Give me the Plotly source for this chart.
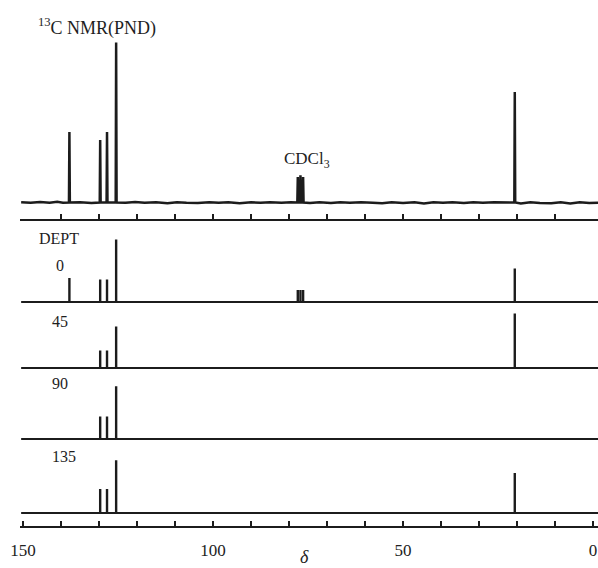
import plotly.graph_objects as go

W, H = 598, 568

# carbon shifts (ppm) of the sample and the solvent triplet
shifts = [137.8, 129.7, 127.9, 125.5, 20.6]
cdcl3_shifts = [77.7, 77.0, 76.3]

# relative stick heights for each experiment (same units in every trace)
pnd_heights = [44, 39, 44, 100, 69]
pnd_cdcl3 = [16, 17, 16]
dept0_heights = [15, 14, 14, 39, 21]
dept0_cdcl3 = [7.5, 7.5, 7.5]
dept45_heights = [0, 11, 11, 26, 34]
dept90_heights = [0, 14, 14, 33, 0]
dept135_heights = [0, 15, 15, 33, 25]

# baseline ripple of the proton-noise-decoupled spectrum
noise_ppm = [150.5, 148, 145.5, 143, 141, 139.5, 135, 132, 123, 120.5, 118,
             115, 112, 109.5, 107, 104, 101, 98.5, 96, 93, 90, 87.5, 85, 82, 79.5,
             74.5, 72, 69, 66.5, 64, 61, 58, 55.5, 53, 50, 47, 44.5, 42, 39.5, 37,
             34, 31.5, 29, 26, 23, 19, 16.5, 14, 11, 8.5, 6, 3.5, 1, -1.3]
noise_val = [0.2, -0.2, 0.3, -0.1, 0.4, -0.2, 0.1, -0.3, -0.1, 0.3, -0.2,
             0.1, -0.4, 0.2, -0.1, -0.3, 0.2, -0.2, 0.1, -0.5, 0.1, -0.1, 0.2,
             -0.2, 0.1, -0.3, 0.1, -0.3, 0.1, -0.2, 0.2, -0.1, -0.4, 0.1, -0.3,
             0.1, -0.6, 0.2, -0.1, 0.1, -0.3, 0.1, -0.2, 0.2, -0.1, -0.6, 0.1,
             -0.3, -0.5, 0.1, -0.6, 0.2, -0.3, -0.1]

x_ticks = list(range(0, 160, 10))
x_labels = {150: "150", 100: "100", 50: "50", 0: "0"}
minor_ticks = [v for v in x_ticks if 0 < v < 150]

INK = "#1c1c1c"
FONT = "Liberation Serif"
X_LEFT, X_RIGHT = 150.8, -1.3
S = 1.6  # pixels per intensity unit


def py(pix):
    return 1 - pix / H


def spectrum_line(peaks, heights, extra_peaks=(), extra_heights=()):
    pts = list(zip(noise_ppm, noise_val))
    for p, h in list(zip(peaks, heights)) + list(zip(extra_peaks, extra_heights)):
        if h <= 0:
            continue
        pts = [q for q in pts if abs(q[0] - p) > 0.5]
        pts += [(p + 0.12, 0.0), (p, h), (p - 0.12, 0.0)]
    pts.sort(key=lambda q: -q[0])
    return [q[0] for q in pts], [q[1] for q in pts]


def sticks(peaks, heights):
    xs, ys = [], []
    for p, h in zip(peaks, heights):
        if h <= 0:
            continue
        xs += [p, p, None]
        ys += [0, h, None]
    return xs, ys


fig = go.Figure()

# top: proton-noise-decoupled spectrum
sx, sy = spectrum_line(shifts, pnd_heights, cdcl3_shifts, pnd_cdcl3)
fig.add_trace(go.Scatter(x=sx, y=sy, mode="lines", xaxis="x", yaxis="y",
                         line=dict(color=INK, width=2.5), hoverinfo="skip"))

# DEPT traces
dept_sets = [
    ("y2", dept0_heights, dept0_cdcl3),
    ("y3", dept45_heights, None),
    ("y4", dept90_heights, None),
    ("y5", dept135_heights, None),
]
for yref, hts, solv in dept_sets:
    fig.add_trace(go.Scatter(x=[X_LEFT - 0.3, X_RIGHT], y=[0, 0], mode="lines",
                             xaxis="x", yaxis=yref, hoverinfo="skip",
                             line=dict(color=INK, width=2.2)))
    px, pyv = sticks(shifts, hts)
    if solv:
        qx, qy = sticks(cdcl3_shifts, solv)
        px += qx
        pyv += qy
    fig.add_trace(go.Scatter(x=px, y=pyv, mode="lines", xaxis="x", yaxis=yref,
                             hoverinfo="skip", line=dict(color=INK, width=2.4)))

# anchor trace for the upper scale bar
fig.add_trace(go.Scatter(x=[50], y=[-500], mode="markers", xaxis="x2", yaxis="y",
                         marker=dict(opacity=0), hoverinfo="skip"))

panels = {
    "yaxis": (202.5, 104),
    "yaxis2": (302, 42),
    "yaxis3": (368, 38),
    "yaxis4": (439, 38),
    "yaxis5": (513, 38),
}
lo = -3
for name, (base, hi) in panels.items():
    fig.update_layout({name: dict(
        domain=[py(base - S * lo), py(base - S * hi)],
        range=[lo, hi], visible=False, fixedrange=True,
        anchor="free", position=0,
    )})

axis_common = dict(
    range=[X_LEFT, X_RIGHT], showgrid=False, zeroline=False,
    showline=True, linecolor=INK, linewidth=2,
    ticks="inside", ticklen=5, tickwidth=1.5, tickcolor=INK,
    fixedrange=True,
)
fig.update_layout(
    xaxis=dict(
        **axis_common, anchor="free", position=py(527),
        tickmode="array",
        tickvals=x_ticks,
        ticktext=[x_labels.get(v, "") for v in x_ticks],
        tickfont=dict(family=FONT, size=17, color="#222"),
        ticklabelstandoff=8,
    ),
    xaxis2=dict(
        **axis_common, anchor="free", position=py(220), matches="x",
        overlaying="x",
        tickmode="array", tickvals=minor_ticks, showticklabels=False,
    ),
)

annots = [
    dict(text="<sup>13</sup>C NMR(PND)", x=(36 - 20) / 578, y=py(27), xanchor="left",
         yanchor="middle", size=18),
    dict(text="CDCl<sub>3</sub>", x=(307 - 20) / 578, y=py(160), xanchor="center",
         yanchor="middle", size=17),
    dict(text="DEPT", x=(37 - 20) / 578, y=py(238), xanchor="left", yanchor="middle", size=16),
    dict(text="0", x=(54 - 20) / 578, y=py(265), xanchor="left", yanchor="middle", size=16),
    dict(text="45", x=(50 - 20) / 578, y=py(321), xanchor="left", yanchor="middle", size=16),
    dict(text="90", x=(50 - 20) / 578, y=py(383), xanchor="left", yanchor="middle", size=16),
    dict(text="135", x=(50 - 20) / 578, y=py(456), xanchor="left", yanchor="middle", size=16),
    dict(text="<i>δ</i>", x=(304 - 20) / 578, y=py(557), xanchor="center",
         yanchor="middle", size=18),
]
fig.update_layout(annotations=[
    dict(text=a["text"], x=a["x"], y=a["y"], xref="paper", yref="paper",
         xanchor=a["xanchor"], yanchor=a["yanchor"], showarrow=False,
         font=dict(family=FONT, size=a["size"], color="#1e1e1e"))
    for a in annots
])

fig.update_layout(
    width=W, height=H, autosize=False,
    margin=dict(l=20, r=0, t=0, b=0),
    paper_bgcolor="white", plot_bgcolor="rgba(0,0,0,0)",
    showlegend=False,
)

fig.write_html("out.html", config={"displayModeBar": False})
